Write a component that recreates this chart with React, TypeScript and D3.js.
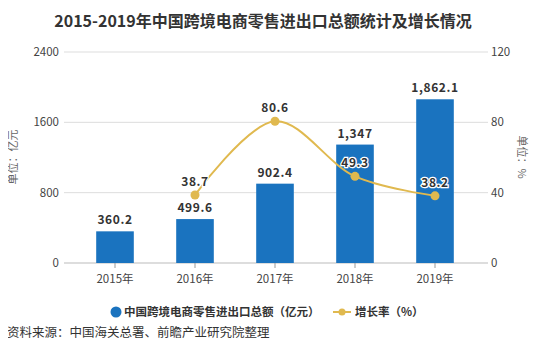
import React, { useRef, useEffect } from 'react';
import * as d3 from 'd3';

const years = ['2015年', '2016年', '2017年', '2018年', '2019年'];
const totals = [360.2, 499.6, 902.4, 1347, 1862.1];
const totalLabels = ['360.2', '499.6', '902.4', '1,347', '1,862.1'];
const growth: (number | null)[] = [null, 38.7, 80.6, 49.3, 38.2];
const leftTicks = [0, 800, 1600, 2400];
const rightTicks = [0, 40, 80, 120];

const W = 544;
const H = 362;
const FONT = '"Noto Sans CJK SC", "Noto Sans", sans-serif';
const BLUE = '#1a73bf';
const GOLD = '#e0b94f';

const App = () => {
  const svgRef = useRef<SVGSVGElement>(null);

  useEffect(() => {
    const svg = d3.select(svgRef.current);
    svg.selectAll('*').remove();

    const x = d3.scaleBand().domain(years).range([75, 475]).paddingInner(0.53).paddingOuter(0.265);
    const yL = d3.scaleLinear().domain([0, 2400]).range([263, 52]);
    const yR = d3.scaleLinear().domain([0, 120]).range([263, 52]);

    svg.append('rect').attr('width', W).attr('height', H).attr('fill', '#fff');

    // title
    svg.append('text')
      .attr('x', 263).attr('y', 27)
      .attr('text-anchor', 'middle')
      .style('font-family', FONT).style('font-weight', 'bold').style('font-size', '16px')
      .attr('fill', '#333')
      .text('2015-2019年中国跨境电商零售进出口总额统计及增长情况');

    // gridlines
    svg.append('g').selectAll('line').data(leftTicks).enter().append('line')
      .attr('x1', 64).attr('x2', 488)
      .attr('y1', d => yL(d)).attr('y2', d => yL(d))
      .attr('stroke', d => (d === 0 ? '#bbb' : '#ddd')).attr('stroke-width', 1);

    // left axis labels
    svg.append('g').selectAll('text').data(leftTicks).enter().append('text')
      .attr('x', 59).attr('y', d => yL(d) + 4)
      .attr('text-anchor', 'end')
      .style('font-family', FONT).style('font-size', '11.5px').attr('fill', '#444')
      .text(d => d);

    // right axis labels
    svg.append('g').selectAll('text').data(rightTicks).enter().append('text')
      .attr('x', 491).attr('y', d => yR(d) + 4)
      .style('font-family', FONT).style('font-size', '11.5px').attr('fill', '#444')
      .text(d => d);

    svg.append('text')
      .attr('transform', 'translate(17,157) rotate(-90)')
      .attr('text-anchor', 'middle')
      .style('font-family', FONT).style('font-size', '11px').attr('fill', '#666')
      .text('单位：亿元');
    svg.append('text')
      .attr('transform', 'translate(518,157) rotate(90)')
      .attr('text-anchor', 'middle')
      .style('font-family', FONT).style('font-size', '11px').attr('fill', '#666')
      .text('单位：%');

    // x ticks
    const xg = svg.append('g');
    xg.selectAll('line').data(years).enter().append('line')
      .attr('x1', d => x(d)! + x.bandwidth() / 2).attr('x2', d => x(d)! + x.bandwidth() / 2)
      .attr('y1', 263).attr('y2', 268).attr('stroke', '#999');
    xg.selectAll('text').data(years).enter().append('text')
      .attr('x', d => x(d)! + x.bandwidth() / 2).attr('y', 283)
      .attr('text-anchor', 'middle')
      .style('font-family', FONT).style('font-size', '11.5px').attr('fill', '#444')
      .text(d => d);

    // bars
    svg.append('g').selectAll('rect').data(totals).enter().append('rect')
      .attr('x', (d, i) => x(years[i])!)
      .attr('y', d => yL(d))
      .attr('width', x.bandwidth())
      .attr('height', d => 263 - yL(d))
      .attr('fill', BLUE);

    svg.append('g').selectAll('text').data(totals).enter().append('text')
      .attr('x', (d, i) => x(years[i])! + x.bandwidth() / 2)
      .attr('y', d => yL(d) - 7)
      .attr('text-anchor', 'middle')
      .style('font-family', FONT).style('font-weight', 'bold').style('font-size', '12px')
      .style('letter-spacing', '0.6px')
      .attr('fill', '#333')
      .attr('stroke', '#fff').attr('stroke-width', 2.5).style('paint-order', 'stroke')
      .text((d, i) => totalLabels[i]);

    // growth line
    const pts = growth
      .map((g, i) => ({ year: years[i], g }))
      .filter(p => p.g !== null) as { year: string; g: number }[];
    const cx = (p: { year: string }) => x(p.year)! + x.bandwidth() / 2;
    const line = d3.line<{ year: string; g: number }>()
      .x(cx).y(p => yR(p.g))
      .curve(d3.curveCatmullRom.alpha(0.5));
    svg.append('path').datum(pts)
      .attr('d', line)
      .attr('fill', 'none').attr('stroke', GOLD).attr('stroke-width', 2);
    svg.append('g').selectAll('circle').data(pts).enter().append('circle')
      .attr('cx', cx).attr('cy', p => yR(p.g)).attr('r', 4.5)
      .attr('fill', GOLD);
    svg.append('g').selectAll('text').data(pts).enter().append('text')
      .attr('x', cx).attr('y', p => yR(p.g) - 9)
      .attr('text-anchor', 'middle')
      .style('font-family', FONT).style('font-weight', 'bold').style('font-size', '12px')
      .style('letter-spacing', '0.6px')
      .attr('fill', '#333')
      .attr('stroke', '#fff').attr('stroke-width', 2.5).style('paint-order', 'stroke')
      .text(p => p.g.toFixed(1));

    // legend
    const lg = svg.append('g');
    lg.append('circle').attr('cx', 116).attr('cy', 312).attr('r', 5.5).attr('fill', BLUE);
    lg.append('text').attr('x', 124).attr('y', 316)
      .style('font-family', FONT).style('font-weight', 'bold').style('font-size', '11.5px').attr('fill', '#333')
      .text('中国跨境电商零售进出口总额（亿元）');
    lg.append('line').attr('x1', 333).attr('x2', 351).attr('y1', 312).attr('y2', 312)
      .attr('stroke', GOLD).attr('stroke-width', 2);
    lg.append('circle').attr('cx', 342).attr('cy', 312).attr('r', 3.5).attr('fill', GOLD);
    lg.append('text').attr('x', 355).attr('y', 316)
      .style('font-family', FONT).style('font-weight', 'bold').style('font-size', '11.5px').attr('fill', '#333')
      .text('增长率（%）');

    // source
    svg.append('text').attr('x', 7).attr('y', 337)
      .style('font-family', FONT).style('font-size', '12.5px').attr('fill', '#333')
      .text('资料来源：中国海关总署、前瞻产业研究院整理');
  }, []);

  return <svg ref={svgRef} width={W} height={H} style={{ display: 'block', margin: '-8px' }} />;
};

export default App;
